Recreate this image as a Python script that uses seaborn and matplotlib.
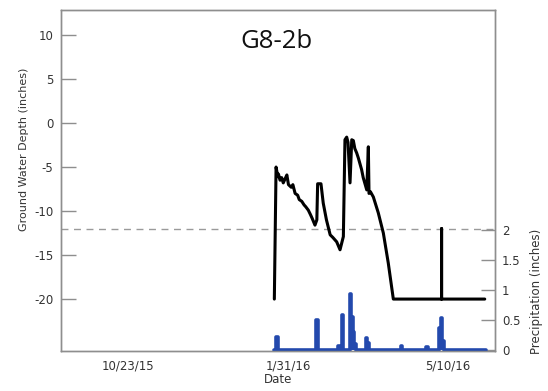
import matplotlib
matplotlib.use("Agg")
import matplotlib.pyplot as plt
import pandas as pd
import seaborn as sns

# Ground water depth readings (inches, negative = below surface)
depth_dates = [
    "2016-01-22 10:00", "2016-01-23 12:00", "2016-01-24 14:00", "2016-01-25 00:00",
    "2016-01-26 00:00", "2016-01-27 00:00", "2016-01-28 00:00", "2016-01-29 00:00",
    "2016-01-30 06:00", "2016-01-31 06:00", "2016-02-02 00:00", "2016-02-03 00:00",
    "2016-02-04 10:00", "2016-02-06 00:00", "2016-02-07 00:00", "2016-02-08 14:00",
    "2016-02-10 00:00", "2016-02-11 00:00", "2016-02-12 16:00", "2016-02-14 00:00",
    "2016-02-15 00:00", "2016-02-16 20:00", "2016-02-18 00:00", "2016-02-18 12:00",
    "2016-02-20 14:00", "2016-02-22 00:00", "2016-02-24 00:00", "2016-02-26 08:00",
    "2016-02-28 00:00", "2016-03-01 10:00", "2016-03-03 12:00", "2016-03-05 14:00",
    "2016-03-06 14:00", "2016-03-07 16:00", "2016-03-08 12:00", "2016-03-09 18:00",
    "2016-03-10 20:00", "2016-03-11 20:00", "2016-03-12 18:00", "2016-03-13 22:00",
    "2016-03-15 00:00", "2016-03-17 00:00", "2016-03-18 00:00", "2016-03-20 05:00",
    "2016-03-21 05:00", "2016-03-21 15:00", "2016-03-22 12:00", "2016-03-24 08:00",
    "2016-03-27 10:00", "2016-03-30 14:00", "2016-04-02 16:00", "2016-04-05 20:00",
    "2016-05-06 00:00", "2016-05-06 00:00", "2016-05-06 00:00", "2016-06-02 00:00",
]
depth_inches = [
    -20.0, -5.0, -6.1, -5.8,
    -6.5, -6.2, -6.8, -6.4,
    -5.9, -7.0, -7.3, -7.0,
    -8.0, -8.2, -8.7, -8.9,
    -9.3, -9.5, -9.9, -10.4,
    -10.8, -11.6, -11.0, -6.9,
    -6.9, -9.1, -11.0, -12.7,
    -13.0, -13.5, -14.4, -12.9,
    -1.9, -1.6, -2.2, -6.8,
    -1.9, -2.0, -2.9, -3.4,
    -4.0, -5.3, -6.2, -7.6,
    -2.7, -8.0, -7.8, -8.4,
    -10.2, -12.5, -15.9, -20.0,
    -20.0, -12.0, -20.0, -20.0,
]

# Daily precipitation (inches); days not listed had no rain
rain_start, rain_end = "2016-01-22", "2016-06-03"
rain_dates = [
    "2016-01-24", "2016-02-18", "2016-03-03", "2016-03-05", "2016-03-10",
    "2016-03-11", "2016-03-12", "2016-03-13", "2016-03-20", "2016-03-21",
    "2016-04-11", "2016-04-27", "2016-05-05", "2016-05-06", "2016-05-07",
]
rain_inches = [
    0.22, 0.51, 0.08, 0.58, 0.93,
    0.55, 0.30, 0.10, 0.20, 0.12,
    0.07, 0.06, 0.37, 0.53, 0.15,
]

threshold_depth = -12
depth_ticks = [10, 5, 0, -5, -10, -15, -20]
rain_ticks = [0, 0.5, 1, 1.5, 2]
rain_tick_labels = ["0", "0.5", "1", "1.5", "2"]
date_ticks = ["2015-10-23", "2016-01-31", "2016-05-10"]
date_tick_labels = ["10/23/15", "1/31/16", "5/10/16"]
x_start, x_end = "2015-09-11", "2016-06-08 10:00"
site_name = "G8-2b"

depth = pd.DataFrame({"date": pd.to_datetime(depth_dates), "depth": depth_inches})
rain = (
    pd.Series(rain_inches, index=pd.to_datetime(rain_dates))
    .reindex(pd.date_range(rain_start, rain_end, freq="D"), fill_value=0.0)
    .rename_axis("date")
    .reset_index(name="rain")
)

sns.set_theme(style="white")
plt.rcParams["font.family"] = ["DejaVu Sans"]

frame_color = "#8e8e8e"
text_color = "#333333"
rain_color = "#2349ad"

fig = plt.figure(figsize=(5.48, 3.91), dpi=100)
ax = fig.add_axes([61 / 548, 40 / 391, 434 / 548, 341 / 391])
ax2 = ax.twinx()

ax.axhline(threshold_depth, color="#9a9a9a", lw=1.0, ls=(0, (5, 4)), zorder=1)
sns.lineplot(data=depth, x="date", y="depth", ax=ax, color="black", lw=2.2,
             estimator=None, sort=False, zorder=3)

sns.lineplot(data=rain, x="date", y="rain", ax=ax2, color=rain_color, lw=2.6,
             drawstyle="steps-mid", estimator=None)
ax2.fill_between(rain["date"], 0, rain["rain"], step="mid", color=rain_color, lw=0)

ax.set_xlim(pd.Timestamp(x_start), pd.Timestamp(x_end))
ax.set_ylim(-25.9, 12.84)
ax2.set_ylim(-0.01, 5.65)

ax.set_yticks(depth_ticks)
ax.set_yticklabels([str(t) for t in depth_ticks])
ax2.set_yticks(rain_ticks)
ax2.set_yticklabels(rain_tick_labels)
ax.set_xticks(pd.to_datetime(date_ticks))
ax.set_xticklabels(date_tick_labels)

ax.tick_params(axis="y", direction="in", length=11, width=1, color=frame_color,
               pad=5.5, labelsize=8.5, labelcolor=text_color)
ax.tick_params(axis="x", length=0, pad=6, labelsize=8.5, labelcolor=text_color)
ax2.tick_params(axis="y", direction="in", length=10, width=1, color=frame_color,
                pad=5, labelsize=8.5, labelcolor=text_color)

ax.set_xlabel("Date", fontsize=8.5, color=text_color, labelpad=0.5)
ax.set_ylabel("Ground Water Depth (inches)", fontsize=8, color=text_color,
              labelpad=3.5, y=0.59)
ax2.set_ylabel("Precipitation (inches)", fontsize=8.5, color=text_color,
               labelpad=7, y=0.176, rotation=90)

for a in (ax, ax2):
    for s in a.spines.values():
        s.set_color(frame_color)
        s.set_linewidth(1.0)
    a.grid(False)

fig.text(0.504, 0.893, site_name, ha="center", va="center", fontsize=18.5,
         family=["Open Sans", "DejaVu Sans"], color="#111111")

fig.savefig("out.png", dpi=100, facecolor="white")
